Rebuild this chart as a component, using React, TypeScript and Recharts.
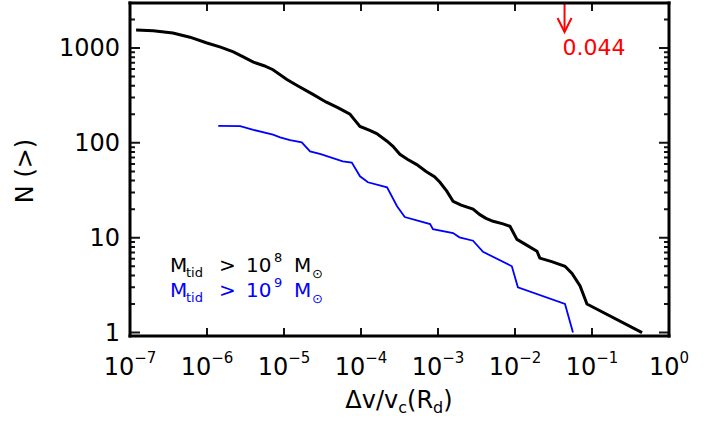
import { LineChart, Line, XAxis, YAxis, ReferenceLine } from "recharts";

const FONT = "'DejaVu Sans', sans-serif";

// M_tid > 1e8 Msun (black)
const blackX = [
  1.2e-7, 2e-7, 3.6e-7, 6e-7, 1e-6, 1.5e-6, 2.2e-6, 3e-6, 4e-6, 5.5e-6, 7.2e-6,
  1.09e-5, 1.5e-5, 2.38e-5, 3.5e-5, 5e-5, 7.2e-5, 8e-5, 9.7e-5, 1.3e-4, 1.6e-4,
  2.18e-4, 2.6e-4, 3.2e-4, 4e-4, 5.3e-4, 7e-4, 9e-4, 1.06e-3, 1.3e-3, 1.57e-3,
  2e-3, 2.85e-3, 3.5e-3, 4.2e-3, 5.2e-3, 7e-3, 8.6e-3, 1.06e-2, 1.4e-2, 1.93e-2,
  2.1e-2, 3e-2, 4.46e-2, 5.5e-2, 0.07, 0.086, 0.447,
];
const blackN = [
  1550, 1520, 1440, 1300, 1130, 1020, 910, 800, 710, 650, 590,
  466, 400, 324, 270, 235, 200, 180, 149, 135, 125,
  104, 92, 75.7, 67, 59, 50, 44, 38.4, 31, 24.2,
  22, 20, 17.5, 16, 14.9, 14, 13.2, 9.6, 8.4, 7.2,
  6.1, 5.6, 5.0, 4.2, 3.1, 2.0, 1.0,
];

// M_tid > 1e9 Msun (blue)
const blueX = [
  1.4e-6, 2.7e-6, 4e-6, 7.2e-6, 8.9e-6, 1.2e-5, 1.7e-5, 2.18e-5, 3e-5, 5.8e-5,
  7.6e-5, 9.7e-5, 1.23e-4, 2.18e-4, 2.94e-4, 3.7e-4, 7.9e-4, 8.6e-4, 1.57e-3,
  1.9e-3, 2.85e-3, 3.84e-3, 9.1e-3, 1.09e-2, 0.0446, 0.0566,
];
const blueN = [
  151, 150, 137, 122, 114, 107, 101, 81.4, 76, 63.8,
  62, 44.4, 38.4, 34, 21.5, 16.5, 13.9, 12.3, 11.2,
  10.1, 9.3, 7.1, 5.0, 3.0, 2.0, 1.0,
];

const arrowValue = 0.044;

const xTicks = [1e-7, 1e-6, 1e-5, 1e-4, 1e-3, 1e-2, 1e-1, 1];
const yMajor = [1, 10, 100, 1000];
const yTicks = [
  1, 2, 3, 4, 5, 6, 7, 8, 9,
  10, 20, 30, 40, 50, 60, 70, 80, 90,
  100, 200, 300, 400, 500, 600, 700, 800, 900,
  1000, 2000,
];

const blackData = blackX.map((x, i) => ({ x, y: blackN[i] }));
const blueData = blueX.map((x, i) => ({ x, y: blueN[i] }));

const TICK = "#141414";
const frame = { stroke: "#000", strokeWidth: 3, strokeLinecap: "square" as const };

const BottomLabel = (props: any) => {
  const { x, y, payload } = props;
  const exp = Math.round(Math.log10(payload.value));
  return (
    <text x={x} y={y + 39} textAnchor="middle" fontSize={24} fontFamily={FONT} fill="#000">
      10
      <tspan dy={-12} fontSize={15}>{exp < 0 ? `\u2212${-exp}` : `${exp}`}</tspan>
    </text>
  );
};

const LeftLabel = (props: any) => {
  const { x, y, payload } = props;
  if (!yMajor.includes(payload.value)) return <g />;
  return (
    <text x={x - 10} y={y + 8.5} textAnchor="end" fontSize={24} fontFamily={FONT} fill="#000">
      {payload.value}
    </text>
  );
};

// inward tick marks on both sides of the frame
const yMark = (len: number) => (p: any) => {
  const l = Math.min(p.x1, p.x2);
  const r = Math.max(p.x1, p.x2);
  return (
    <path
      d={`M${l - 1},${p.y1}H${l + len}M${r + 1},${p.y1}H${r - len}`}
      stroke={TICK}
      strokeWidth={2}
      fill="none"
    />
  );
};

const xMark = (p: any) => {
  const t = Math.min(p.y1, p.y2);
  const b = Math.max(p.y1, p.y2);
  return (
    <path
      d={`M${p.x1},${t - 1}V${t + 8}M${p.x1},${b + 1}V${b - 8}`}
      stroke={TICK}
      strokeWidth={2}
      fill="none"
    />
  );
};

const ArrowMark = (props: any) => {
  const { x1, y1, y2 } = props;
  const top = Math.min(y1, y2);
  return (
    <g>
      <line x1={x1} y1={top} x2={x1} y2={top + 29} stroke="#ff0000" strokeWidth={2} />
      <polyline
        points={`${x1 - 7},${top + 15} ${x1},${top + 29} ${x1 + 7},${top + 15}`}
        fill="none"
        stroke="#ff0000"
        strokeWidth={2}
      />
      <text x={x1 - 2} y={top + 52} fontSize={22} fontFamily={FONT} fill="#ff0000">
        {String(arrowValue)}
      </text>
    </g>
  );
};

export default function App() {
  return (
    <div style={{ position: "absolute", left: 0, top: 0, width: 718, height: 424, background: "#fff" }}>
      <LineChart width={718} height={424} margin={{ top: 2, right: 48, bottom: 0, left: 0 }}>
        <XAxis
          xAxisId="b"
          dataKey="x"
          type="number"
          scale="log"
          domain={[1e-7, 1]}
          allowDataOverflow
          ticks={xTicks}
          interval={0}
          tickSize={0}
          tickMargin={0}
          tickLine={false}
          height={88}
          axisLine={frame}
          tick={<BottomLabel />}
        />
        <XAxis
          xAxisId="t"
          orientation="top"
          type="number"
          scale="log"
          domain={[1e-7, 1]}
          allowDataOverflow
          tick={false}
          tickLine={false}
          height={1}
          axisLine={frame}
        />
        <YAxis
          yAxisId="l"
          type="number"
          scale="log"
          domain={[0.92, 2980]}
          allowDataOverflow
          ticks={yTicks}
          interval={0}
          tickSize={0}
          tickMargin={0}
          tickLine={false}
          width={130}
          axisLine={frame}
          tick={<LeftLabel />}
        />
        <YAxis
          yAxisId="r"
          orientation="right"
          type="number"
          scale="log"
          domain={[0.92, 2980]}
          allowDataOverflow
          tick={false}
          tickLine={false}
          width={1}
          axisLine={frame}
        />
        {yTicks.map((v) => (
          <ReferenceLine
            key={`y${v}`}
            xAxisId="b"
            yAxisId="l"
            y={v}
            ifOverflow="visible"
            shape={yMark(yMajor.includes(v) ? 10 : 5)}
          />
        ))}
        {xTicks.map((v) => (
          <ReferenceLine key={`x${v}`} xAxisId="b" yAxisId="l" x={v} ifOverflow="visible" shape={xMark} />
        ))}
        <Line
          xAxisId="b"
          yAxisId="l"
          data={blackData}
          dataKey="y"
          type="linear"
          stroke="#000"
          strokeWidth={3}
          dot={false}
          isAnimationActive={false}
        />
        <Line
          xAxisId="b"
          yAxisId="l"
          data={blueData}
          dataKey="y"
          type="linear"
          stroke="#0000ff"
          strokeWidth={1.8}
          dot={false}
          isAnimationActive={false}
        />
        <ReferenceLine xAxisId="b" yAxisId="l" x={arrowValue} shape={<ArrowMark />} />
        <text fontSize={20} fill="#000" fontFamily={FONT}>
          <tspan x={170} y={272}>M</tspan>
          <tspan x={186} y={277} fontSize={13}>tid</tspan>
          <tspan x={219} y={272}>&gt;</tspan>
          <tspan x={246} y={272}>10</tspan>
          <tspan x={274} y={262} fontSize={13}>8</tspan>
          <tspan x={294} y={272}>M</tspan>
          <tspan x={312} y={278} fontSize={13}>{"\u2299"}</tspan>
        </text>
        <text fontSize={20} fill="#0000ff" fontFamily={FONT}>
          <tspan x={170} y={297}>M</tspan>
          <tspan x={186} y={302} fontSize={13}>tid</tspan>
          <tspan x={219} y={297}>&gt;</tspan>
          <tspan x={246} y={297}>10</tspan>
          <tspan x={274} y={287} fontSize={13}>9</tspan>
          <tspan x={294} y={297}>M</tspan>
          <tspan x={312} y={303} fontSize={13}>{"\u2299"}</tspan>
        </text>
        <text x={399} y={408} textAnchor="middle" fontSize={24} fill="#000" fontFamily={FONT}>
          {"\u0394v/v"}
          <tspan dy={5} fontSize={16}>c</tspan>
          <tspan dy={-5}>(R</tspan>
          <tspan dy={5} fontSize={16}>d</tspan>
          <tspan dy={-5}>)</tspan>
        </text>
        <text
          transform="translate(33,171) rotate(-90)"
          textAnchor="middle"
          fontSize={24}
          fill="#000"
          fontFamily={FONT}
          style={{ whiteSpace: "pre" }}
        >
          {"N (>)"}
        </text>
      </LineChart>
    </div>
  );
}
